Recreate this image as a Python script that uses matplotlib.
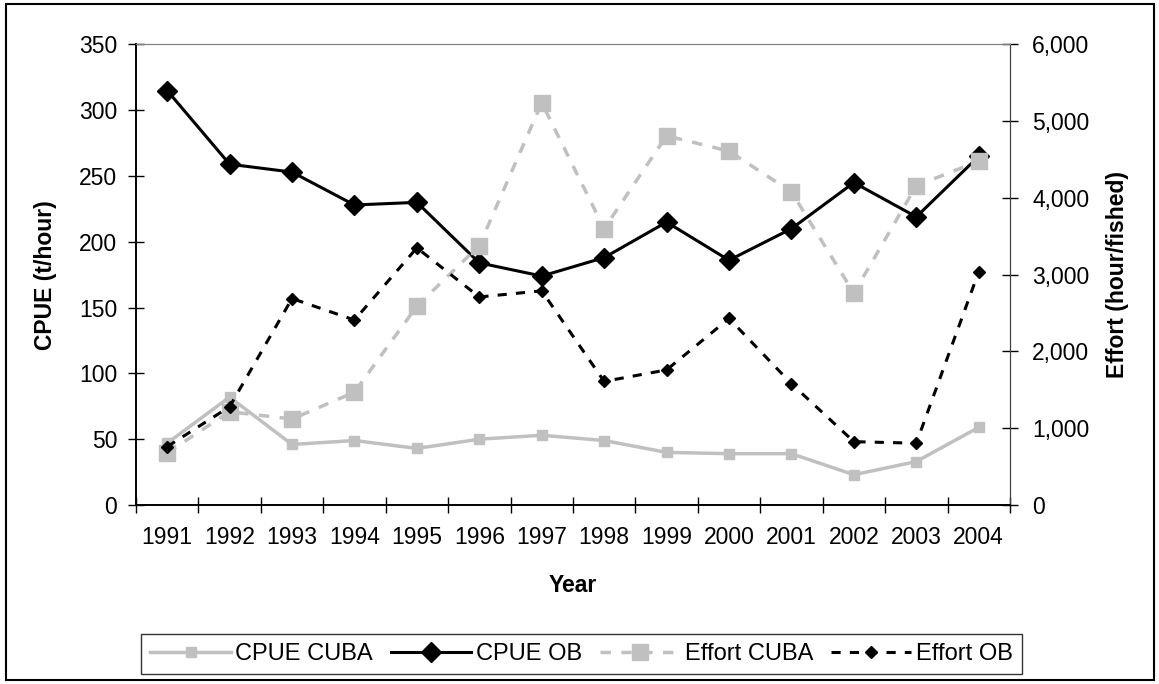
import numpy as np
import matplotlib
matplotlib.use('Agg')
import matplotlib.pyplot as plt
from matplotlib.patches import Rectangle

plt.rcParams['font.family'] = ['Liberation Sans', 'DejaVu Sans']

# Data
years = ['1991', '1992', '1993', '1994', '1995', '1996', '1997',
         '1998', '1999', '2000', '2001', '2002', '2003', '2004']
cpue_cuba = [47, 82, 46, 49, 43, 50, 53, 49, 40, 39, 39, 23, 33, 59]
cpue_ob = [315, 259, 253, 228, 230, 184, 174, 188, 215, 186, 210, 245, 219, 265]
effort_cuba = [680, 1215, 1120, 1470, 2590, 3380, 5240, 3600, 4810, 4610, 4080, 2760, 4160, 4480]
effort_ob = [760, 1280, 2690, 2410, 3350, 2710, 2790, 1610, 1760, 2430, 1580, 825, 805, 3040]

grey = '#C0C0C0'
fs = 16.5
x = np.arange(len(years))

fig = plt.figure(figsize=(11.59, 6.84), dpi=100)
ax = fig.add_axes([0.1173, 0.2617, 0.7541, 0.6733])
ax2 = ax.twinx()

# left axis: CPUE
l1, = ax.plot(x, cpue_cuba, color=grey, lw=2.5, marker='s', ms=7.5,
              label='CPUE CUBA', zorder=3)
l2, = ax.plot(x, cpue_ob, color='black', lw=2.2, marker='D', ms=10,
              label='CPUE OB', zorder=4)

# right axis: effort
l3, = ax2.plot(x, effort_cuba, color=grey, lw=2.5, ls=(0, (3, 3)), marker='s',
               ms=11, label='Effort CUBA', zorder=3)
l4, = ax2.plot(x, effort_ob, color='black', lw=2.2, ls=(0, (3, 3)), marker='D',
               ms=6.5, label='Effort OB', zorder=4)

ax.set_xlim(-0.5, len(years) - 0.5)
ax.set_ylim(0, 350)
ax.set_yticks(np.arange(0, 351, 50))
ax2.set_ylim(0, 6000)
ax2.set_yticks(np.arange(0, 6001, 1000))
ax2.set_yticklabels([f'{v:,}' for v in range(0, 6001, 1000)])

ax.set_xticks(x)
ax.set_xticklabels(years)
ax.set_xticks(np.arange(-0.5, len(years), 1.0), minor=True)
ax.tick_params(axis='x', which='major', length=0, labelsize=fs, pad=15)
ax.tick_params(axis='x', which='minor', direction='inout', length=11, width=1)
ax.tick_params(axis='y', direction='inout', length=11, width=1, labelsize=fs, pad=8)
ax2.tick_params(axis='y', direction='inout', length=11, width=1, labelsize=fs,
                pad=10.5, colors='black')

for a in (ax, ax2):
    a.spines['top'].set_color('#808080')
    a.spines['right'].set_color('#404040')
    a.spines['left'].set_color('black')
    a.spines['bottom'].set_color('black')
    a.spines['left'].set_linewidth(1.2)
    a.spines['bottom'].set_linewidth(1.2)

ax.set_xlabel('Year', fontsize=fs, fontweight='bold', labelpad=18)
ax.set_ylabel('CPUE (t/hour)', fontsize=fs, fontweight='bold', labelpad=16)
ax2.set_ylabel('Effort (hour/fished)', fontsize=fs, fontweight='bold', labelpad=12)

leg = fig.legend(handles=[l1, l2, l3, l4], loc='center', ncol=4,
                 bbox_to_anchor=(581.5 / 1159, 1 - 654 / 684),
                 frameon=True, fancybox=False, edgecolor='black', fontsize=17,
                 handlelength=3.4, handletextpad=0.2, columnspacing=0.75,
                 borderpad=0.4, borderaxespad=0)
leg.get_frame().set_linewidth(1.0)

# outer chart border
fig.patches.append(Rectangle((0.005, 0.006), 0.991, 0.988, transform=fig.transFigure,
                             fill=False, edgecolor='black', lw=1.5))

fig.savefig('out.png', dpi=100)
